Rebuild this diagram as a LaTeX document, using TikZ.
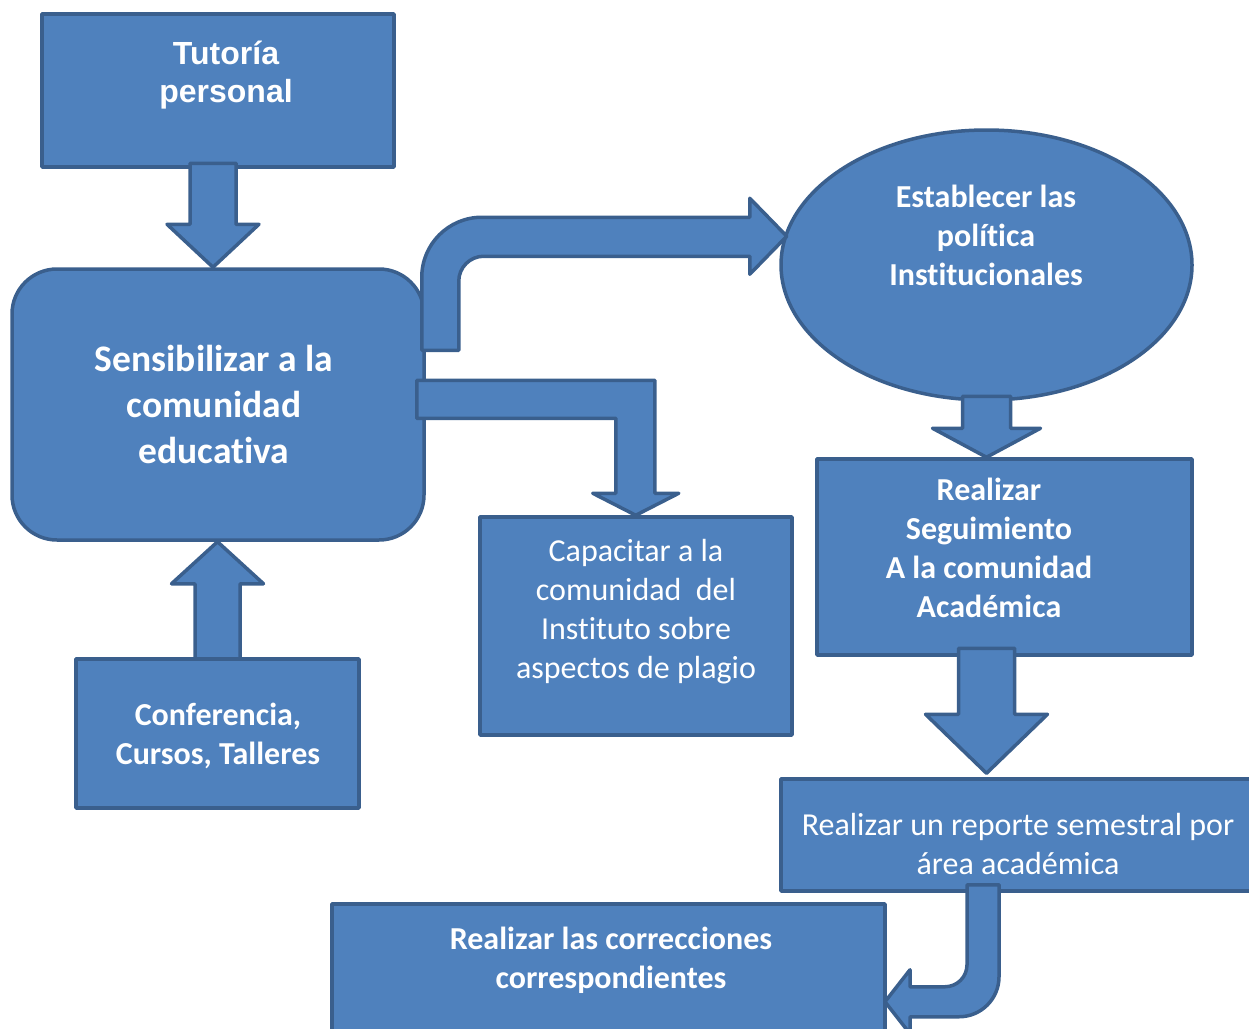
\documentclass[tikz,border=0pt]{standalone}
\usepackage{fontspec}
\setmainfont{Carlito}[Ligatures=NoCommon]
\newfontfamily\arialfont{Liberation Sans}
\usetikzlibrary{shapes.geometric}
\definecolor{boxfill}{HTML}{4F81BD}
\definecolor{boxline}{HTML}{3A5F8D}
\begin{document}
\begin{tikzpicture}[
  x=1pt, y=-1pt,
  basic/.style = {draw=boxline, fill=boxfill, line width=3.5pt, line join=round},
  box/.style = {basic, rectangle, inner sep=0pt},
  label txt/.style = {text=white, align=center, font=\fontsize{32}{39}\selectfont},
  bold txt/.style = {label txt, font=\fontsize{32}{39}\selectfont\bfseries},
  big txt/.style = {label txt, font=\fontsize{37.5}{46}\selectfont\bfseries},
  %arial txt for the top box
  arial txt/.style = {label txt, font=\arialfont\fontsize{32}{38}\selectfont\bfseries},
]
  \useasboundingbox (0,0) rectangle (1249,1028);

  % boxes
  \node[box, minimum width=352pt, minimum height=153pt] (tut) at (218,90.5) {};
  \node[box, rounded corners=45pt, minimum width=412pt, minimum height=271pt] (sens) at (218,404.5) {};
  \node[box, minimum width=283pt, minimum height=149pt] (conf) at (217.5,733.5) {};
  \node[box, minimum width=312pt, minimum height=218pt] (cap) at (636,626) {};
  \node[basic, ellipse, inner sep=0pt, minimum width=411pt, minimum height=270pt] (ell) at (986.5,265) {};
  \node[box, minimum width=375pt, minimum height=196pt] (seg) at (1004.5,557) {};
  \node[box, minimum width=475pt, minimum height=112pt] (rep) at (1018.5,835) {};
  \node[box, minimum width=553pt, minimum height=136pt] (cor) at (608.5,972) {};

  % block arrows
  \draw[basic] (sens.north) ++(-5,0) -- ++(-46,-43) -- ++(23,0) -- ++(0,-61)
    -- ++(46,0) -- ++(0,61) -- ++(23,0) -- cycle;
  \draw[basic] (sens.south -| conf.north) -- ++(-46,42) -- ++(23.5,0) -- ++(0,75)
    -- ++(45,0) -- ++(0,-75) -- ++(23.5,0) -- cycle;
  \draw[basic] (sens.north east) ++(-4,83) -- ++(0,-73)
    arc[start angle=180, end angle=270, radius=60] -- ++(268,0) -- ++(0,-19)
    -- ++(37,38) -- ++(-37,38) -- ++(0,-18) -- ++(-266,0)
    arc[start angle=270, end angle=180, radius=25] -- ++(0,69) -- cycle;
  \draw[basic] (sens.north east) ++(-9,113) -- ++(238,0) -- ++(0,113) -- ++(24,0)
    -- ++(-43,22) -- ++(-43,-22) -- ++(23,0) -- ++(0,-75) -- ++(-199,0) -- cycle;
  \draw[basic] (seg.north -| ell.south) -- ++(-54,-29) -- ++(30,0) -- ++(0,-32)
    -- ++(48,0) -- ++(0,32) -- ++(30,0) -- cycle;
  \draw[basic] (rep.north -| ell.south) ++(0,-4) -- ++(-61,-59) -- ++(33,0) -- ++(0,-66)
    -- ++(56,0) -- ++(0,66) -- ++(33,0) -- cycle;
  \draw[basic] (rep.south) ++(-51.5,-8) -- ++(32,0) -- ++(0,92)
    arc[start angle=0, end angle=90, radius=40] -- ++(-49,0) -- ++(0,17)
    -- ++(-25,-32) -- ++(25,-32) -- ++(0,17) -- ++(35,0)
    arc[start angle=90, end angle=0, radius=22] -- cycle;

  % texts
  \node[arial txt] (tut-t) at (226,75) {Tutoría\\personal};
  \node[big txt] (sens-t) at (214,404) {Sensibilizar a la\\comunidad\\educativa};
  \node[bold txt] (conf-t) at (218,736) {Conferencia,\\Cursos, Talleres};
  \node[label txt] (cap-t) at (636,611.5) {Capacitar a la\\comunidad~~del\\Instituto sobre\\aspectos de plagio};
  \node[bold txt] (ell-t) at (986,235.5) {Establecer las\\política\\Institucionales};
  \node[bold txt] (seg-t) at (989,548) {Realizar\\Seguimiento\\A la comunidad\\Académica};
  \node[label txt] (rep-t) at (1018,843.5) {Realizar un reporte semestral por\\área académica};
  \node[bold txt] (cor-t) at (611,960.5) {Realizar las correcciones\\correspondientes};
\end{tikzpicture}
\end{document}
